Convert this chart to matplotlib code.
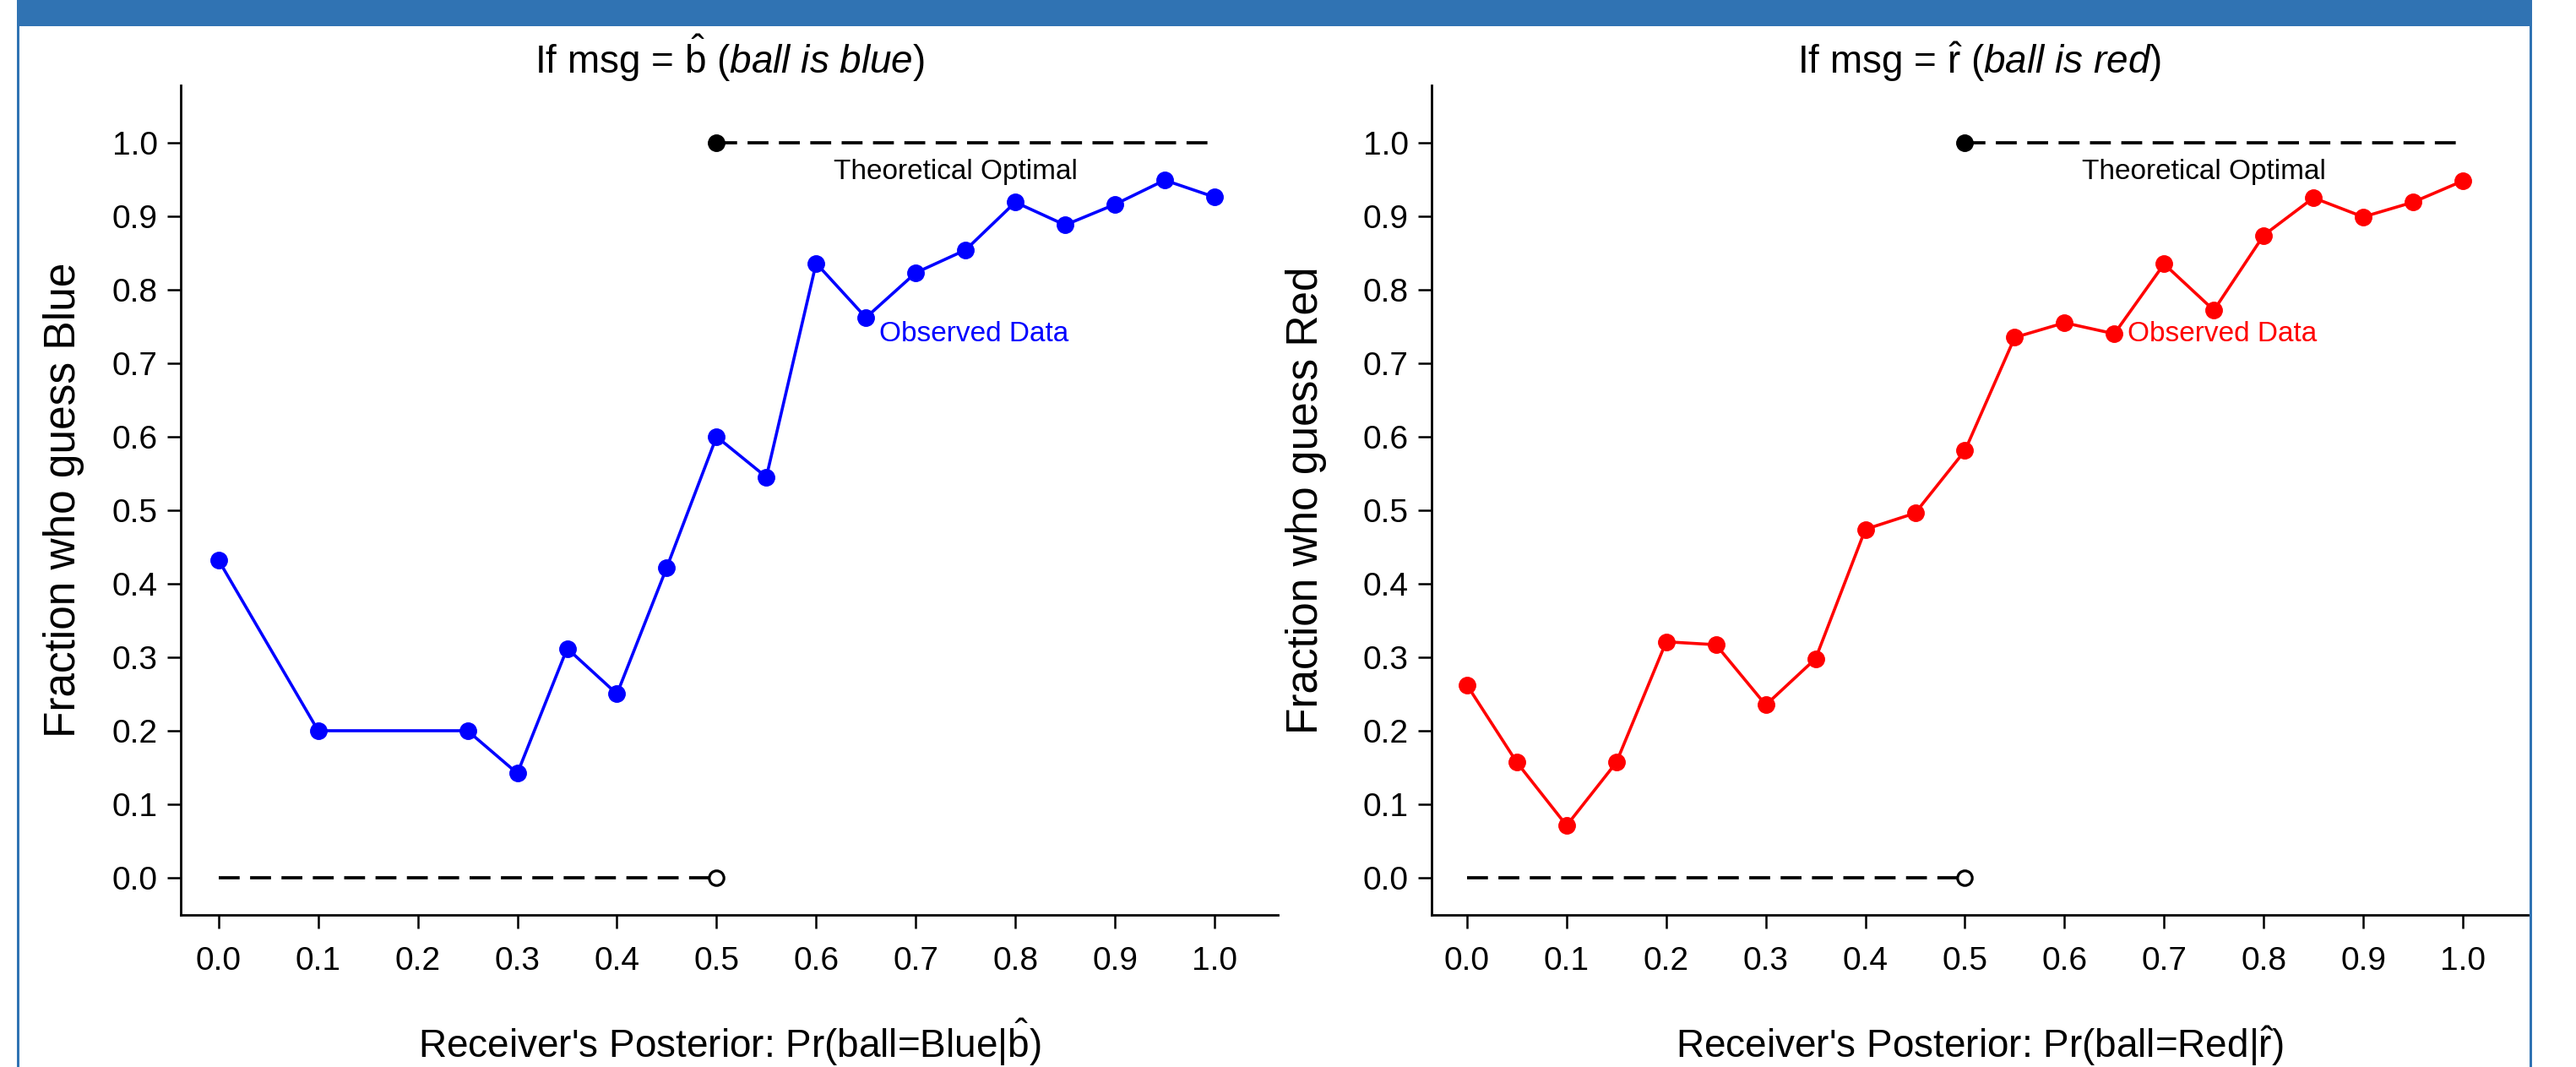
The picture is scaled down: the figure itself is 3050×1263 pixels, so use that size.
import matplotlib
matplotlib.use("Agg")
import matplotlib.pyplot as plt
from matplotlib.patches import Rectangle

plt.rcParams['font.family'] = 'Liberation Sans'
plt.rcParams['mathtext.fontset'] = 'custom'
plt.rcParams['mathtext.rm'] = 'Liberation Sans'
plt.rcParams['mathtext.it'] = 'Liberation Sans:italic'

# datos observados, mensaje b (bola azul)
blue_x = [0.0, 0.1, 0.25, 0.3, 0.35, 0.4, 0.45, 0.5, 0.55, 0.6,
          0.65, 0.7, 0.75, 0.8, 0.85, 0.9, 0.95, 1.0]
blue_y = [0.432, 0.200, 0.200, 0.142, 0.312, 0.250, 0.422, 0.600, 0.545, 0.836,
          0.762, 0.823, 0.854, 0.919, 0.888, 0.916, 0.949, 0.926]

# datos observados, mensaje r (bola roja)
red_x = [0.0, 0.05, 0.1, 0.15, 0.2, 0.25, 0.3, 0.35, 0.4, 0.45, 0.5,
         0.55, 0.6, 0.65, 0.7, 0.75, 0.8, 0.85, 0.9, 0.95, 1.0]
red_y = [0.262, 0.157, 0.071, 0.157, 0.321, 0.317, 0.235, 0.298, 0.474, 0.496, 0.581,
         0.735, 0.755, 0.740, 0.835, 0.772, 0.874, 0.925, 0.899, 0.919, 0.948]

# optimo teorico
opt_low_x = [0.0, 0.5]
opt_low_y = [0.0, 0.0]
opt_high_x = [0.5, 1.0]
opt_high_y = [1.0, 1.0]

ticks = [0.0, 0.1, 0.2, 0.3, 0.4, 0.5, 0.6, 0.7, 0.8, 0.9, 1.0]
tick_labels = ['0.0', '0.1', '0.2', '0.3', '0.4', '0.5', '0.6', '0.7', '0.8', '0.9', '1.0']

W, H = 3050, 1263
bar_color = '#3073B3'


def panel(ax, xs, ys, color, title, xlabel, ylabel, ylab_x, xmin, xmax):
    """Dibuja un panel con el optimo teorico y los datos observados."""
    ax.plot(opt_low_x, opt_low_y, color='black', lw=2.7, dashes=(6.6, 3.3),
            marker='o', markevery=[len(opt_low_x) - 1], ms=12.5,
            mfc='white', mec='black', mew=2.3)
    ax.plot(opt_high_x, opt_high_y, color='black', lw=2.7, dashes=(6.6, 3.3),
            marker='o', markevery=[0], ms=14, mfc='black', mec='black')
    ax.plot(xs, ys, '-o', color=color, lw=2.6, ms=14)

    ax.text(0.74, 0.96, 'Theoretical Optimal', ha='center', va='center', fontsize=24)
    ax.text(0.663, 0.74, 'Observed Data', color=color, ha='left', va='center', fontsize=24)

    ax.set_xlim(xmin, xmax)
    ax.set_ylim(-0.0506, 1.078)
    ax.set_xticks(ticks)
    ax.set_xticklabels(tick_labels)
    ax.set_yticks(ticks)
    ax.set_yticklabels(tick_labels)
    ax.spines['top'].set_visible(False)
    ax.spines['right'].set_visible(False)
    ax.spines['left'].set_linewidth(2)
    ax.spines['bottom'].set_linewidth(2)
    ax.tick_params(direction='out', length=11.5, width=1.8, labelsize=28)
    ax.tick_params(axis='x', pad=15)
    ax.tick_params(axis='y', pad=8)

    ax.set_title(title, fontsize=33, pad=10)
    ax.set_xlabel(xlabel, fontsize=33)
    ax.xaxis.set_label_coords(0.5, -0.172)
    ax.xaxis.label.set_va('baseline')
    ax.set_ylabel(ylabel, fontsize=37)
    ax.yaxis.set_label_coords(ylab_x, 0.5)


fig = plt.figure(figsize=(W / 100, H / 100), dpi=100)

ax1 = fig.add_axes([214 / W, 1 - 1083 / H, 1299 / W, 982 / H])
ax2 = fig.add_axes([1695 / W, 1 - 1083 / H, 1298 / W, 982 / H])

panel(ax1, blue_x, blue_y, 'blue',
      r'If msg = $\hat{\mathrm{b}}$ ($\mathit{ball\ is\ blue}$)',
      r"Receiver's Posterior: Pr(ball=Blue|$\hat{\mathrm{b}}$)",
      'Fraction who guess Blue', -0.0878, -0.038, 1.0636)
panel(ax2, red_x, red_y, 'red',
      r'If msg = $\hat{\mathrm{r}}$ ($\mathit{ball\ is\ red}$)',
      r"Receiver's Posterior: Pr(ball=Red|$\hat{\mathrm{r}}$)",
      'Fraction who guess Red', -0.0955, -0.0356, 1.0653)

# marco de la diapositiva: barra azul arriba y bordes laterales
fig.add_artist(Rectangle((21 / W, 1 - 31 / H), (2998 - 21) / W, 31 / H,
                         transform=fig.transFigure, color=bar_color, lw=0))
fig.add_artist(Rectangle((20 / W, 0), 3 / W, 1, transform=fig.transFigure,
                         color=bar_color, lw=0))
fig.add_artist(Rectangle((2995 / W, 0), 3 / W, 1, transform=fig.transFigure,
                         color=bar_color, lw=0))

fig.savefig('out.png', dpi=100)
